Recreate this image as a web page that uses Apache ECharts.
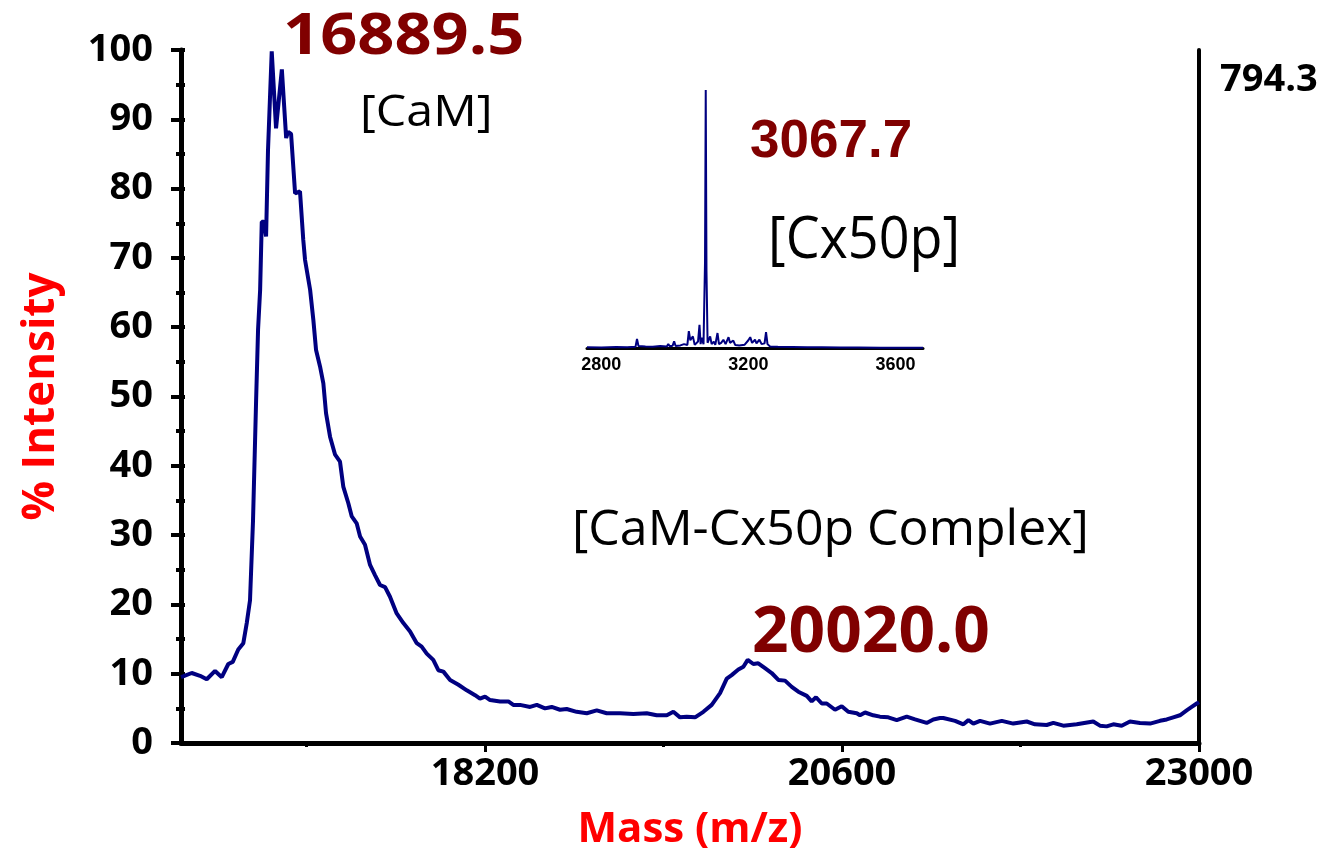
<!DOCTYPE html>
<html>
<head>
<meta charset="utf-8">
<script src="https://cdn.jsdelivr.net/npm/echarts@6/dist/echarts.min.js"></script>
<style>
  html, body { margin: 0; padding: 0; background: #fff; }
  #chart { width: 1331px; height: 861px; }
</style>
</head>
<body>
<div id="chart"></div>
<script>
// Espectro principal (masa en Da, % intensidad)
const mainMass = [16156, 16170, 16228, 16284, 16329, 16385, 16430, 16474, 16504, 16541, 16575, 16598, 16620, 16640, 16661, 16674, 16688, 16699, 16714, 16728, 16741, 16766, 16795, 16834, 16863, 16876, 16896, 16923, 16956, 16978, 16990, 17024, 17046, 17064, 17091, 17113, 17131, 17158, 17192, 17225, 17247, 17281, 17304, 17337, 17360, 17393, 17427, 17461, 17494, 17528, 17561, 17606, 17651, 17696, 17741, 17774, 17808, 17852, 17886, 17920, 17965, 18021, 18077, 18133, 18166, 18200, 18234, 18301, 18357, 18390, 18435, 18503, 18548, 18603, 18648, 18704, 18749, 18816, 18884, 18951, 19018, 19108, 19197, 19287, 19354, 19422, 19466, 19511, 19556, 19612, 19668, 19724, 19780, 19825, 19858, 19903, 19937, 19966, 20004, 20037, 20082, 20127, 20172, 20217, 20262, 20306, 20363, 20396, 20425, 20464, 20497, 20553, 20598, 20642, 20699, 20721, 20755, 20810, 20855, 20911, 20968, 21035, 21091, 21169, 21214, 21259, 21281, 21360, 21416, 21450, 21483, 21528, 21595, 21674, 21752, 21842, 21897, 21976, 22021, 22088, 22178, 22289, 22334, 22379, 22424, 22480, 22536, 22603, 22671, 22738, 22783, 22827, 22872, 22917, 22951, 22985, 23000];
const mainIntensity = [9.5, 9.6, 10.1, 9.7, 9.2, 10.4, 9.5, 11.4, 11.7, 13.5, 14.4, 17.3, 20.6, 32, 49.5, 59.6, 65.4, 75.2, 75.2, 73.1, 85.6, 99.8, 88.7, 97.2, 87.3, 88.2, 87.9, 79.3, 79.6, 72.6, 69.7, 65.4, 61.0, 56.7, 54.3, 51.9, 47.6, 44.2, 41.6, 40.6, 37.0, 34.6, 32.7, 31.7, 29.8, 28.6, 25.7, 24.2, 22.8, 22.5, 21.1, 18.7, 17.3, 16.1, 14.4, 13.9, 12.9, 12.0, 10.5, 10.3, 9.1, 8.4, 7.6, 6.9, 6.4, 6.7, 6.2, 6.0, 6.0, 5.5, 5.5, 5.2, 5.5, 5.0, 5.2, 4.8, 4.9, 4.5, 4.3, 4.7, 4.3, 4.3, 4.2, 4.3, 4.0, 4.0, 4.5, 3.7, 3.8, 3.7, 4.5, 5.5, 7.2, 9.3, 9.8, 10.6, 11.0, 12.0, 11.4, 11.5, 10.8, 10.1, 9.1, 9.0, 8.1, 7.4, 6.8, 6.0, 6.6, 5.7, 5.7, 4.8, 5.3, 4.5, 4.3, 4.0, 4.4, 4.0, 3.8, 3.7, 3.3, 3.8, 3.4, 2.9, 3.4, 3.6, 3.6, 3.2, 2.7, 3.3, 2.8, 3.2, 2.8, 3.2, 2.8, 3.1, 2.7, 2.6, 2.9, 2.5, 2.7, 3.1, 2.5, 2.4, 2.7, 2.5, 3.1, 2.9, 2.8, 3.2, 3.4, 3.7, 4.0, 4.7, 5.2, 5.7, 5.9];

// Recuadro Cx50p
const insetMass = [2761, 2800, 2840, 2870, 2893, 2897, 2901, 2920, 2940, 2960, 2978, 2982, 2986, 2994, 2998, 3002, 3015, 3025, 3034, 3038, 3042, 3049, 3054, 3063, 3067, 3070, 3073, 3078, 3082, 3084, 3086, 3089, 3096, 3100, 3106, 3110, 3116, 3120, 3126, 3132, 3138, 3146, 3150, 3159, 3164, 3175, 3190, 3200, 3205, 3210, 3218, 3222, 3230, 3236, 3244, 3248, 3252, 3259, 3280, 3320, 3360, 3400, 3450, 3500, 3560, 3620, 3675];
const insetIntensity = [0.3, 0.2, 0.4, 0.3, 0.5, 3.5, 0.8, 0.6, 0.5, 0.8, 0.6, 1.5, 0.7, 0.9, 2.6, 0.8, 1.0, 1.5, 1.2, 6.5, 3.0, 4.5, 1.2, 2.5, 9.0, 1.5, 4.0, 1.5, 33, 100, 30, 2.0, 4.5, 1.5, 2.5, 1.2, 5.8, 1.5, 2.0, 3.2, 1.5, 4.2, 2.0, 2.9, 1.2, 1.0, 1.3, 3.0, 4.2, 2.0, 3.2, 1.8, 3.2, 1.5, 1.8, 6.2, 1.5, 0.6, 0.5, 0.4, 0.3, 0.3, 0.2, 0.15, 0.1, 0.1, 0.1];

const xMajorTicks = [18200, 20600, 23000];
const xMinorTicks = [17000, 19400, 21800];
const insetTicks = [2800, 3200, 3600];

const AZUL = "#000080";
const GRANATE = "#800000";
const ROJO = "#ff0000";
const FUENTE = "'Open Sans', 'Noto Sans', sans-serif";
const sinComas = v => String(v); // sin separador de miles

const chart = echarts.init(document.getElementById("chart"));

const texto = (text, x, y, size, color, weight, family, scaleX) => ({
  type: "text",
  x: x, y: y,
  scaleX: scaleX || 1,
  style: {
    text: text, fill: color, font: `${weight} ${size}px ${family}`,
    textAlign: "left", textVerticalAlign: "middle"
  }
});

chart.setOption({
  animation: false,
  backgroundColor: "#fff",
  grid: [
    { left: 181, right: 132, top: 50, bottom: 118 },
    { left: 587, right: 408, top: 90, bottom: 513 }
  ],
  xAxis: [
    {
      type: "value", gridIndex: 0, min: 16156, max: 23000,
      name: "Mass (m/z)", nameLocation: "middle", nameGap: 66,
      nameTextStyle: { color: ROJO, fontSize: 42, fontWeight: "bold", fontFamily: FUENTE },
      axisLine: { lineStyle: { color: "#000", width: 5 } },
      axisTick: { show: true, customValues: xMajorTicks, length: 9, lineStyle: { color: "#000", width: 3 } },
      axisLabel: { customValues: xMajorTicks, formatter: sinComas, color: "#000", fontSize: 38, fontWeight: "bold", fontFamily: FUENTE, margin: 12 },
      splitLine: { show: false }
    },
    {
      type: "value", gridIndex: 0, min: 16156, max: 23000, position: "bottom", offset: 0,
      axisLine: { show: false },
      axisTick: { show: true, customValues: xMinorTicks, length: 4, lineStyle: { color: "#000", width: 3 } },
      axisLabel: { show: false, customValues: xMinorTicks },
      splitLine: { show: false }
    },
    {
      type: "value", gridIndex: 1, min: 2761, max: 3675,
      axisLine: { lineStyle: { color: "#000", width: 3 } },
      axisTick: { show: false },
      axisLabel: { customValues: insetTicks, formatter: sinComas, color: "#000", fontSize: 18, fontWeight: "bold",
                   fontFamily: "'Liberation Sans Narrow', 'Liberation Sans', sans-serif", margin: 8 },
      splitLine: { show: false }
    }
  ],
  yAxis: [
    {
      type: "value", gridIndex: 0, min: 0, max: 100, interval: 10, position: "left", offset: 0,
      name: "% Intensity", nameLocation: "middle", nameGap: 118, nameRotate: 90,
      nameTextStyle: { color: ROJO, fontSize: 44, fontWeight: "bold", fontFamily: FUENTE },
      axisLine: { show: true, lineStyle: { color: "#000", width: 5 } },
      axisTick: { show: true, length: 10, lineStyle: { color: "#000", width: 4 } },
      minorTick: { show: true, splitNumber: 2, length: 5, lineStyle: { color: "#000", width: 4 } },
      axisLabel: { color: "#000", fontSize: 38, fontWeight: "bold", fontFamily: FUENTE, margin: 28 },
      splitLine: { show: false }
    },
    {
      type: "value", gridIndex: 0, min: 0, max: 100, position: "right", offset: 0,
      axisLine: { show: true, lineStyle: { color: "#000", width: 4 } },
      axisTick: { show: false }, axisLabel: { show: false }, splitLine: { show: false }
    },
    {
      type: "value", gridIndex: 0, min: 0, max: 100, interval: 5, position: "left", offset: 0,
      axisLine: { show: false },
      axisTick: { show: true, inside: true, length: 4, lineStyle: { color: "#000", width: 4 } },
      axisLabel: { show: false }, splitLine: { show: false }
    },
    {
      type: "value", gridIndex: 1, min: 0, max: 100, show: false
    }
  ],
  series: [
    {
      type: "line", xAxisIndex: 0, yAxisIndex: 0, showSymbol: false,
      data: mainMass.map((m, i) => [m, mainIntensity[i]]),
      lineStyle: { color: AZUL, width: 4 }, itemStyle: { color: AZUL }
    },
    {
      type: "line", xAxisIndex: 2, yAxisIndex: 3, showSymbol: false,
      data: insetMass.map((m, i) => [m, insetIntensity[i]]),
      lineStyle: { color: AZUL, width: 2 }, itemStyle: { color: AZUL }
    }
  ],
  graphic: [
    texto("16889.5", 283, 37, 58, GRANATE, "bold", FUENTE, 1.12),
    texto("[CaM]", 360, 113, 44, "#000", "normal", FUENTE, 1.1),
    texto("3067.7", 750, 142, 53, GRANATE, "bold", "'Liberation Sans', Arial, sans-serif"),
    texto("[Cx50p]", 768, 241, 58, "#000", "normal", FUENTE, 0.93),
    texto("[CaM-Cx50p Complex]", 572, 531, 50, "#000", "normal", FUENTE),
    texto("20020.0", 752, 634, 64, GRANATE, "bold", FUENTE),
    texto("794.3", 1220, 80, 38, "#000", "bold", FUENTE)
  ]
});
</script>
</body>
</html>
